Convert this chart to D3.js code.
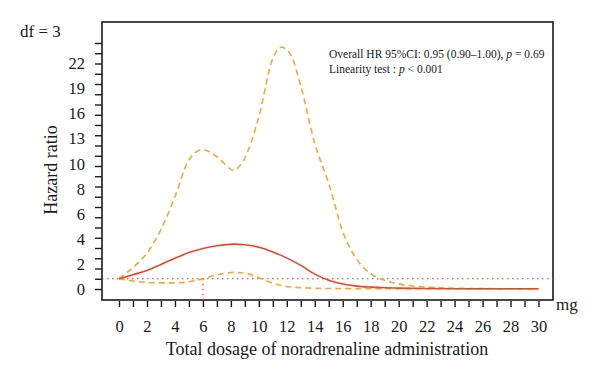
<!DOCTYPE html>
<html>
<head>
<meta charset="utf-8">
<script src="https://cdn.jsdelivr.net/npm/d3@7"></script>
<style>
  body { margin: 0; background: #fff; }
  svg text { font-family: "Liberation Serif", "DejaVu Serif", serif; fill: #1a1a1a; }
</style>
</head>
<body>
<svg id="chart" width="600" height="383"></svg>
<script>
var svg = d3.select('#chart');

// dose grid (mg) and hazard ratio curves (in plot units)
const doses  = [0, 1, 2, 3, 4, 5, 6, 7, 8.2, 9, 10, 11, 11.6, 12.3, 13, 14, 15, 16, 17, 18, 19, 20, 22, 24, 26, 28, 30];
const hrFit  = [1, 1.4, 1.8, 2.4, 3.0, 3.55, 3.95, 4.22, 4.38, 4.32, 4.08, 3.62, 3.28, 2.82, 2.3, 1.45, 0.85, 0.48, 0.28, 0.18, 0.12, 0.09, 0.05, 0.03, 0.02, 0.02, 0.02];
const hrLow  = [1, 0.78, 0.64, 0.6, 0.6, 0.7, 1.0, 1.38, 1.62, 1.55, 1.1, 0.55, 0.35, 0.2, 0.13, 0.08, 0.05, 0.04, 0.03, 0.03, 0.02, 0.02, 0.02, 0.02, 0.02, 0.02, 0.02];
const hrHigh = [1, 2.1, 3.5, 5.8, 9.0, 12.6, 13.6, 12.9, 11.6, 12.8, 16.8, 22.5, 23.6, 22.8, 19.8, 14.2, 10.3, 5.6, 2.9, 1.5, 0.85, 0.5, 0.18, 0.08, 0.04, 0.02, 0.02];

// y labels as printed (equally spaced along the axis)
const yLabels = [0, 2, 4, 6, 8, 10, 13, 16, 19, 22];
const xLabels = d3.range(0, 31, 2);
const refHR = 1;
const refDose = 6;

const box = {left: 102, top: 22, right: 553, bottom: 300};

const x = d3.scaleLinear().domain([0, 30]).range([119, 538.5]);
const y = d3.scaleLinear().domain([0, 24]).range([289, 43]);

// frame
svg.append('rect')
    .attr('x', box.left).attr('y', box.top)
    .attr('width', box.right - box.left).attr('height', box.bottom - box.top)
    .attr('fill', 'none').attr('stroke', '#1a1a1a').attr('stroke-width', 1.6);

// y axis: unit ticks, then labels
const gy = svg.append('g').attr('transform', 'translate(' + box.left + ',0)')
    .call(d3.axisLeft(y).tickValues(d3.range(0, 25)).tickSize(7).tickFormat(''));
gy.select('.domain').remove();
gy.selectAll('line').attr('stroke', '#1a1a1a').attr('stroke-width', 1.4);

const gyl = svg.append('g').attr('transform', 'translate(' + box.left + ',0)')
    .call(d3.axisLeft(y)
        .tickValues(yLabels.map((d, i) => i * 22 / (yLabels.length - 1)))
        .tickSize(0).tickPadding(17)
        .tickFormat((d, i) => yLabels[i]));
gyl.select('.domain').remove();
gyl.selectAll('text').style('font-size', '16.5px').style('font-family', '"Liberation Serif", serif').attr('fill', '#1a1a1a');

// x axis
const gx = svg.append('g').attr('transform', 'translate(0,' + (box.bottom + 1) + ')')
    .call(d3.axisBottom(x).tickValues(d3.range(0, 31)).tickSize(6).tickFormat(''));
gx.select('.domain').remove();
gx.selectAll('line').attr('stroke', '#1a1a1a').attr('stroke-width', 1.4);

const gxl = svg.append('g').attr('transform', 'translate(0,' + (box.bottom + 1) + ')')
    .call(d3.axisBottom(x).tickValues(xLabels).tickSize(6).tickPadding(13));
gxl.select('.domain').remove();
gxl.selectAll('line').remove();
gxl.selectAll('text').style('font-size', '16.5px').style('font-family', '"Liberation Serif", serif').attr('fill', '#1a1a1a');

// reference lines
svg.append('line')
    .attr('x1', box.left).attr('x2', box.right)
    .attr('y1', y(refHR)).attr('y2', y(refHR))
    .attr('stroke', '#e8332a').attr('stroke-width', 1.2).attr('stroke-dasharray', '1.5,3.5');
svg.append('line')
    .attr('x1', x(refDose)).attr('x2', x(refDose))
    .attr('y1', y(refHR)).attr('y2', box.bottom)
    .attr('stroke', '#e8332a').attr('stroke-width', 1.2).attr('stroke-dasharray', '1.5,3.5');

// curves
const line = d3.line()
    .x((d, i) => x(doses[i]))
    .y(d => y(d))
    .curve(d3.curveMonotoneX);

svg.append('path').datum(hrHigh).attr('d', line)
    .attr('fill', 'none').attr('stroke', '#f6a832').attr('stroke-width', 1.6).attr('stroke-dasharray', '6,4');
svg.append('path').datum(hrLow).attr('d', line)
    .attr('fill', 'none').attr('stroke', '#f6a832').attr('stroke-width', 1.6).attr('stroke-dasharray', '6,4');
svg.append('path').datum(hrFit).attr('d', line)
    .attr('fill', 'none').attr('stroke', '#ee4328').attr('stroke-width', 1.6);

// texts
svg.append('text').text('df = 3').attr('x', 20).attr('y', 37).style('font-size', '17px');
svg.append('text').text('mg').attr('x', 556).attr('y', 310).style('font-size', '17px');
svg.append('text').text('Total dosage of noradrenaline administration')
    .attr('x', 327).attr('y', 355).attr('text-anchor', 'middle').style('font-size', '18px');
svg.append('text').text('Hazard ratio')
    .attr('transform', 'translate(57,170) rotate(-90)')
    .attr('text-anchor', 'middle').style('font-size', '18px');

const note1 = svg.append('text').attr('x', 329).attr('y', 58).style('font-size', '11.5px');
note1.append('tspan').text('Overall HR 95%CI: 0.95 (0.90\u20131.00), ');
note1.append('tspan').text('p').style('font-style', 'italic');
note1.append('tspan').text(' = 0.69');

const note2 = svg.append('text').attr('x', 329).attr('y', 73).style('font-size', '11.5px');
note2.append('tspan').text('Linearity test : ');
note2.append('tspan').text('p').style('font-style', 'italic');
note2.append('tspan').text(' < 0.001');
</script>
</body>
</html>
